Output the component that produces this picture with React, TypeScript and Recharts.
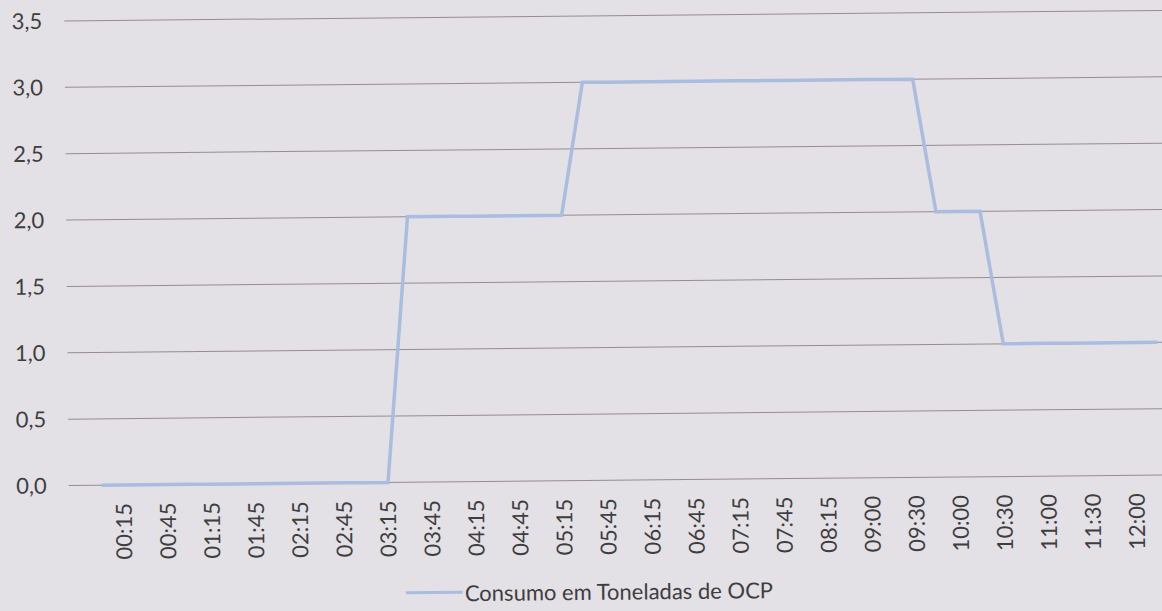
import { LineChart, Line, CartesianGrid, XAxis, YAxis, Legend } from "recharts";

// categorias (horários) e consumo
const times = [
  "00:00","00:15","00:30","00:45","01:00","01:15","01:30","01:45",
  "02:00","02:15","02:30","02:45","03:00","03:15","03:30","03:45",
  "04:00","04:15","04:30","04:45","05:00","05:15","05:30","05:45",
  "06:00","06:15","06:30","06:45","07:00","07:15","07:30","07:45",
  "08:00","08:15","08:30","09:00","09:15","09:30","09:45","10:00",
  "10:15","10:30","10:45","11:00","11:15","11:30","11:45","12:00","12:15",
];
const consumo = [
  0,0,0,0,0,0,0,0,
  0,0,0,0,0,0,2,2,
  2,2,2,2,2,2,3,3,
  3,3,3,3,3,3,3,3,
  3,3,3,3,3,3,2,2,
  2,1,1,1,1,1,1,1,1,
];
const xTickLabels = [
  "00:15","00:45","01:15","01:45","02:15","02:45","03:15","03:45",
  "04:15","04:45","05:15","05:45","06:15","06:45","07:15","07:45",
  "08:15","09:00","09:30","10:00","10:30","11:00","11:30","12:00",
];
const yTicks = [0, 0.5, 1, 1.5, 2, 2.5, 3, 3.5];
const seriesName = "Consumo em Toneladas de OCP";

const data = times.map((t, i) => ({ t, v: consumo[i] }));

const paper = "#e3e0e6";
const ink = "#3e3e3e";
const lineColor = "#a9bde0";
const font = "Lato";
const fs = 22;

const RotTick = (props: any) => {
  const { x, y, payload } = props;
  return (
    <text
      x={x}
      y={y}
      transform={`rotate(-90, ${x}, ${y})`}
      textAnchor="end"
      dy="0.35em"
      fill={ink}
      fontSize={fs}
      fontFamily={font}
    >
      {payload.value}
    </text>
  );
};

const LegendBox = () => (
  <div style={{ display: "flex", alignItems: "center", height: 40, paddingLeft: 403, fontFamily: font, fontSize: fs, color: ink }}>
    <svg width={57} height={6}>
      <line x1={0} y1={3} x2={57} y2={3} stroke={lineColor} strokeWidth={3} />
    </svg>
    <span style={{ marginLeft: 2 }}>{seriesName}</span>
  </div>
);

export default function App() {
  return (
    <div style={{ position: "absolute", left: 0, top: 0, width: 1162, height: 611, overflow: "hidden", background: paper }}>
      <div style={{ width: 1190, height: 611, transform: "rotate(-0.55deg)", transformOrigin: "581px 300px" }}>
        <LineChart width={1190} height={611} data={data} margin={{ top: 16, right: 0, bottom: 0, left: 0 }}>
          <CartesianGrid vertical={false} stroke="#978c91" strokeWidth={1} />
          <XAxis
            dataKey="t"
            ticks={xTickLabels}
            interval={0}
            tick={<RotTick />}
            tickLine={false}
            axisLine={false}
            tickSize={0}
            tickMargin={18}
            height={79}
            padding={{ left: 33, right: 33 }}
          />
          <YAxis
            domain={[0, 3.5]}
            ticks={yTicks}
            tickFormatter={(v: number) => v.toFixed(1).replace(".", ",")}
            tick={{ fill: ink, fontSize: fs, fontFamily: font }}
            tickLine={false}
            axisLine={false}
            tickSize={0}
            tickMargin={22}
            width={67}
          />
          <Legend verticalAlign="bottom" content={<LegendBox />} wrapperStyle={{ left: 0, width: 1190 }} />
          <Line
            type="linear"
            dataKey="v"
            name={seriesName}
            stroke={lineColor}
            strokeWidth={3.5}
            dot={false}
            isAnimationActive={false}
          />
        </LineChart>
      </div>
    </div>
  );
}
